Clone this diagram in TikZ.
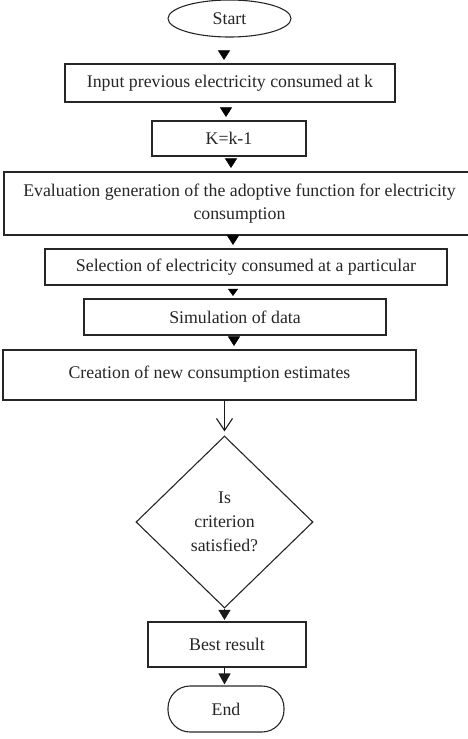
\documentclass[tikz,border=0pt]{standalone}
\usepackage{fontspec}
\setmainfont{Liberation Serif}
\usetikzlibrary{shapes.geometric,arrows.meta,shadows}
\begin{document}
\begin{tikzpicture}[x=1pt,y=1pt,
  font=\fontsize{17.8}{23}\selectfont,
  box/.style={draw=black!85, line width=1.1pt, rectangle, inner sep=0pt, align=center, text=black!85,
    drop shadow={shadow xshift=1.2pt, shadow yshift=-1.2pt, fill=black!35, opacity=1}, fill=white},
  tri/.style={draw=white, line width=0.5pt, shorten <=1pt, shorten >=3.5pt,
    -{Triangle[black, length=9.5pt, width=12pt]}},
  conn/.style={draw=black!90, line width=1.1pt}]
\useasboundingbox (0,0) rectangle (467,-739);
\node[draw=black!85, line width=1.1pt, ellipse, minimum width=123pt, minimum height=37pt, inner sep=0pt, text=black!85] (start) at (229.5,-18.5) {Start};
\node[box, minimum width=330pt, minimum height=38pt] (input) at (230,-83) {Input previous electricity consumed at k};
\node[box, minimum width=154pt, minimum height=35pt] (kk) at (229,-138.5) {K=k-1};
\node[box, minimum width=471pt, minimum height=63pt] (eval) at (239.5,-203.5) {Evaluation generation of the adoptive function for electricity\\consumption};
\node[box, minimum width=402pt, minimum height=36pt] (sel) at (246,-267) {Selection of electricity consumed at a particular};
\node[box, minimum width=302pt, minimum height=36pt] (sim) at (235,-317) {Simulation of data};
\node[box, minimum width=413pt, minimum height=50pt] (cre) at (209.5,-375) {\raisebox{5pt}{Creation of new consumption estimates}};
\node[draw=black!85, line width=1.1pt, diamond, minimum width=177pt, minimum height=172pt, inner sep=0pt, align=center, text=black!85, font=\fontsize{17.8}{24}\selectfont] (dec) at (224.5,-522) {Is\\criterion\\satisfied?};
\node[box, minimum width=158pt, minimum height=45pt] (best) at (227,-644.5) {Best result};
\node[draw=black!85, line width=1.1pt, rectangle, rounded corners=22pt, minimum width=116pt, minimum height=46pt, inner sep=0pt, text=black!85] (endn) at (226,-709) {End};

\draw[tri] (start.south -| 224,0) -- (input.north -| 224,0);
\draw[tri] (input.south -| 226,0) -- (kk.north -| 226,0);
\draw[tri] (kk.south -| 231,0) -- (eval.north -| 231,0);
\draw[tri] (eval.south -| 233,0) -- (sel.north -| 233,0);
\draw[tri, -{Triangle[black, length=7pt, width=10pt]}, shorten >=2.5pt] (sel.south -| 233,0) -- (sim.north -| 233,0);
\draw[tri] (sim.south -| 234,0) -- (cre.north -| 234,0);
\draw[conn, -{Straight Barb[length=12pt, width=16pt, line width=1.1pt]}, shorten >=4pt] (cre.south -| dec.north) -- (dec.north);
\draw[conn, -{Triangle[length=10pt, width=12pt]}, shorten >=1.5pt] (dec.south) -- (dec.south |- best.north);
\draw[conn, -{Triangle[length=11pt, width=12pt]}, shorten >=1pt] (best.south -| dec.south) -- (dec.south |- endn.north);
\end{tikzpicture}
\end{document}
